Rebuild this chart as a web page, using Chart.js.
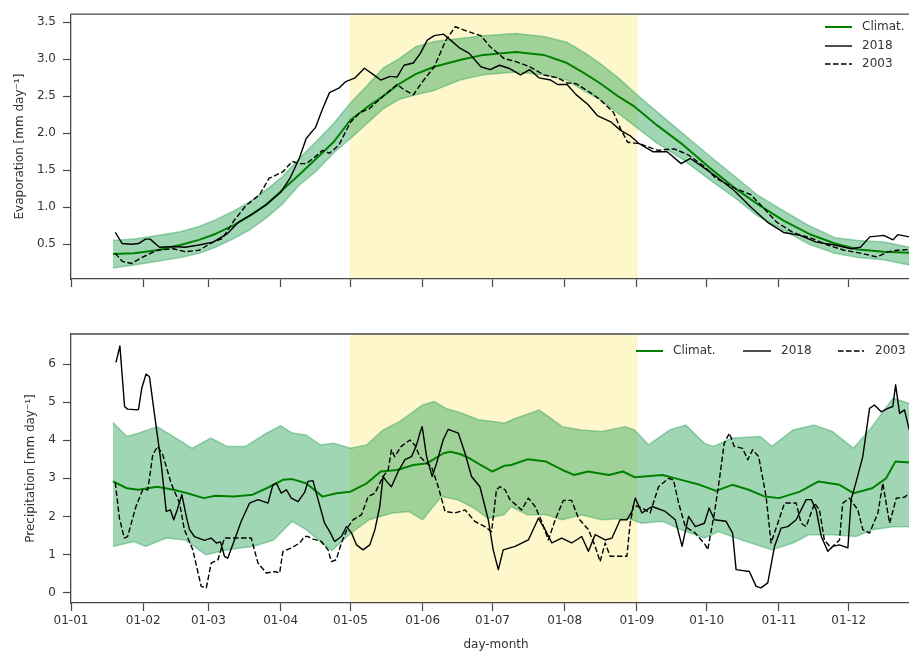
<!DOCTYPE html>
<html>
<head>
<meta charset="utf-8">
<script src="https://cdn.jsdelivr.net/npm/chart.js@4.4.1/dist/chart.umd.min.js"></script>
<style>
  html, body { margin: 0; padding: 0; background: #fff; overflow: hidden; }
  #wrap { position: relative; width: 909px; height: 652px; overflow: hidden; }
  #evap { position: absolute; left: 0; top: 0; }
  #prec { position: absolute; left: 0; top: 300px; }
</style>
</head>
<body>
<div id="wrap">
  <canvas id="evap" width="921" height="300"></canvas>
  <canvas id="prec" width="921" height="352"></canvas>
</div>
<script>
// x axis: day of year, ticks on the first of each month
const MONTH_START_DAYS = [0, 31, 59, 90, 120, 151, 181, 212, 243, 273, 304, 334]
const MONTH_LABELS = ["01-01", "01-02", "01-03", "01-04", "01-05", "01-06",
                      "01-07", "01-08", "01-09", "01-10", "01-11", "01-12"]
const SUMMER_DAYS = [120, 243]   // shaded May-August window
const EVAP_TICKS = [0.5, 1.0, 1.5, 2.0, 2.5, 3.0, 3.5]
const PREC_TICKS = [0, 1, 2, 3, 4, 5, 6]
const LEGEND_LABELS = ["Climat.", "2018", "2003"]

// Evaporation climatology (mean and spread), shared days
const EVAP_CLIM_DAYS = [18, 27, 37, 47, 55, 62, 70, 77, 84, 91, 98, 105, 113, 120, 127, 134, 141, 148,
  156, 167, 177, 191, 203, 213, 220, 227, 235, 242, 252, 263, 274, 285, 295, 306, 317, 328, 338, 349, 360, 365]
const EVAP_CLIM_MEAN = [0.37, 0.38, 0.42, 0.49, 0.56, 0.64, 0.76, 0.89, 1.04, 1.24, 1.44, 1.65, 1.89, 2.18,
  2.35, 2.50, 2.67, 2.80, 2.90, 2.99, 3.06, 3.10, 3.06, 2.95, 2.82, 2.68, 2.50, 2.36, 2.10, 1.84, 1.54, 1.26,
  1.04, 0.82, 0.64, 0.51, 0.43, 0.40, 0.385, 0.38]
const EVAP_CLIM_LOW = [0.18, 0.22, 0.27, 0.32, 0.38, 0.46, 0.58, 0.70, 0.86, 1.05, 1.30, 1.48, 1.74, 1.93,
  2.13, 2.33, 2.46, 2.52, 2.58, 2.72, 2.79, 2.83, 2.79, 2.72, 2.58, 2.46, 2.27, 2.10, 1.86, 1.64, 1.38, 1.13,
  0.88, 0.69, 0.50, 0.38, 0.32, 0.29, 0.22, 0.20]
const EVAP_CLIM_HIGH = [0.55, 0.57, 0.62, 0.67, 0.74, 0.83, 0.95, 1.08, 1.24, 1.42, 1.66, 1.88, 2.14, 2.41,
  2.64, 2.88, 3.01, 3.17, 3.24, 3.28, 3.32, 3.35, 3.31, 3.23, 3.10, 2.95, 2.75, 2.55, 2.28, 1.99, 1.70, 1.42,
  1.16, 0.95, 0.75, 0.59, 0.55, 0.53, 0.46, 0.45]

// Evaporation in single years, [day, mm/day]
const EVAP_2018 = [[19, 0.66], [22, 0.51], [26, 0.50], [29, 0.51], [32, 0.57], [34, 0.57], [38, 0.46],
  [44, 0.47], [49, 0.46], [55, 0.49], [61, 0.53], [67, 0.64], [72, 0.80], [78, 0.91], [84, 1.04], [90, 1.20],
  [94, 1.39], [98, 1.66], [101, 1.93], [105, 2.08], [108, 2.33], [111, 2.55], [115, 2.61], [118, 2.70],
  [122, 2.75], [126, 2.88], [130, 2.79], [133, 2.72], [137, 2.77], [140, 2.76], [143, 2.92], [147, 2.95],
  [150, 3.08], [153, 3.26], [156, 3.32], [160, 3.34], [163, 3.26], [167, 3.15], [171, 3.08], [176, 2.90],
  [180, 2.86], [184, 2.92], [188, 2.88], [193, 2.79], [197, 2.86], [201, 2.75], [206, 2.72], [209, 2.66],
  [213, 2.66], [217, 2.52], [222, 2.39], [226, 2.24], [232, 2.15], [236, 2.04], [240, 1.97], [244, 1.86],
  [250, 1.75], [256, 1.75], [262, 1.59], [266, 1.66], [272, 1.53], [277, 1.42], [285, 1.22], [292, 1.00],
  [299, 0.80], [306, 0.66], [313, 0.62], [320, 0.53], [328, 0.49], [335, 0.44], [339, 0.46], [343, 0.60],
  [349, 0.62], [353, 0.56], [355, 0.63], [360, 0.60], [364, 0.58]]
const EVAP_2003 = [[19, 0.38], [22, 0.27], [26, 0.24], [31, 0.33], [37, 0.42], [44, 0.44], [49, 0.40],
  [55, 0.42], [61, 0.53], [65, 0.58], [70, 0.82], [75, 1.02], [81, 1.17], [85, 1.39], [91, 1.48], [95, 1.62],
  [98, 1.59], [101, 1.59], [104, 1.66], [108, 1.77], [111, 1.73], [115, 1.84], [120, 2.15], [124, 2.28],
  [128, 2.33], [134, 2.50], [140, 2.66], [143, 2.59], [147, 2.52], [151, 2.70], [156, 2.90], [161, 3.26],
  [165, 3.44], [171, 3.37], [176, 3.32], [180, 3.17], [186, 3.01], [191, 2.97], [197, 2.90], [203, 2.79],
  [209, 2.75], [213, 2.68], [217, 2.67], [223, 2.55], [227, 2.46], [233, 2.28], [236, 2.06], [239, 1.88],
  [244, 1.86], [252, 1.77], [259, 1.79], [265, 1.71], [272, 1.55], [277, 1.39], [285, 1.26], [292, 1.17],
  [298, 0.97], [303, 0.80], [310, 0.66], [318, 0.58], [325, 0.49], [332, 0.42], [339, 0.38], [346, 0.33],
  [351, 0.40], [355, 0.42], [360, 0.43], [364, 0.43]]

// Precipitation climatology, [day, mm/day]
const PREC_CLIM_MEAN = [[18, 2.92], [24, 2.74], [29, 2.70], [37, 2.78], [44, 2.70], [50, 2.61], [57, 2.48],
  [62, 2.54], [70, 2.52], [78, 2.57], [84, 2.74], [91, 2.96], [95, 2.98], [101, 2.87], [108, 2.52], [114, 2.61],
  [120, 2.65], [127, 2.87], [133, 3.18], [140, 3.22], [147, 3.35], [153, 3.40], [160, 3.66], [163, 3.70],
  [167, 3.64], [171, 3.53], [176, 3.35], [181, 3.18], [186, 3.33], [189, 3.35], [196, 3.50], [204, 3.44],
  [211, 3.22], [216, 3.09], [222, 3.18], [231, 3.09], [237, 3.18], [242, 3.03], [254, 3.09], [262, 2.96],
  [270, 2.83], [277, 2.67], [284, 2.83], [291, 2.70], [298, 2.52], [304, 2.48], [313, 2.65], [321, 2.92],
  [330, 2.83], [336, 2.61], [344, 2.74], [350, 3.00], [354, 3.44], [360, 3.42], [364, 3.40]]
const PREC_CLIM_HIGH = [[18, 4.47], [24, 4.10], [29, 4.19], [37, 4.36], [44, 4.10], [52, 3.79], [60, 4.06],
  [67, 3.84], [75, 3.84], [84, 4.19], [90, 4.38], [95, 4.19], [101, 4.14], [107, 3.88], [113, 3.92], [120, 3.79],
  [127, 3.88], [134, 4.27], [141, 4.49], [151, 4.93], [156, 5.02], [161, 4.84], [168, 4.71], [175, 4.54],
  [182, 4.49], [186, 4.45], [191, 4.58], [201, 4.80], [211, 4.36], [219, 4.27], [228, 4.23], [238, 4.36],
  [242, 4.27], [248, 3.88], [257, 4.27], [264, 4.40], [272, 3.92], [276, 3.84], [284, 4.06], [296, 4.10],
  [301, 3.84], [310, 4.27], [319, 4.40], [327, 4.23], [336, 3.79], [344, 4.36], [353, 5.11], [360, 4.97], [364, 4.95]]
const PREC_CLIM_LOW = [[18, 1.21], [27, 1.34], [32, 1.21], [41, 1.43], [49, 1.38], [58, 0.99], [67, 1.12],
  [78, 1.21], [87, 1.38], [95, 1.87], [101, 1.65], [107, 1.34], [112, 1.10], [120, 1.55], [128, 1.91], [138, 2.09],
  [145, 2.13], [151, 1.91], [159, 2.52], [166, 2.44], [173, 2.22], [179, 1.95], [186, 2.04], [189, 2.26],
  [196, 2.04], [204, 2.04], [211, 1.91], [219, 2.04], [228, 1.91], [239, 1.95], [245, 1.82], [254, 1.87],
  [262, 1.65], [272, 1.43], [278, 1.60], [288, 1.38], [301, 1.12], [310, 1.30], [317, 1.52], [327, 1.52],
  [337, 1.47], [344, 1.65], [353, 1.73], [360, 1.73], [364, 1.73]]

// Precipitation in single years, [day, mm/day]
const PREC_2018 = [[19, 6.07], [19.4, 6.07], [21, 6.48], [23, 4.89], [24.3, 4.82], [28.6, 4.80], [29, 4.82],
  [30.4, 5.37], [32.2, 5.74], [33.7, 5.67], [35.8, 4.71], [38.7, 3.40], [40.9, 2.13], [42.7, 2.17], [44.1, 1.91],
  [45.6, 2.17], [47.6, 2.57], [49.5, 2.00], [50.9, 1.65], [53, 1.47], [57.3, 1.37], [60.2, 1.43], [62.4, 1.30],
  [64.2, 1.33], [65.9, 0.95], [67.3, 0.90], [70.2, 1.38], [73.1, 1.87], [76.7, 2.35], [80.3, 2.44], [84.6, 2.35],
  [86.7, 2.83], [88.2, 2.87], [90.3, 2.61], [92.5, 2.70], [94.6, 2.48], [97.5, 2.39], [100.3, 2.63], [101.8, 2.92],
  [103.9, 2.94], [106.1, 2.44], [108.9, 1.82], [111.1, 1.60], [113.2, 1.34], [116.1, 1.47], [118.3, 1.73],
  [120.5, 1.56], [122.6, 1.25], [125.4, 1.12], [128.3, 1.25], [130.5, 1.65], [132.6, 2.26], [134, 3.05],
  [135.5, 2.92], [137.6, 2.78], [140.5, 3.18], [143.4, 3.49], [146.2, 3.57], [148.4, 3.88], [149.8, 4.19],
  [150.8, 4.36], [152.7, 3.57], [155.1, 3.05], [157, 3.40], [159.8, 4.01], [162, 4.29], [166.3, 4.19],
  [169.2, 3.66], [172, 3.05], [175.6, 2.78], [179.2, 1.91], [181.3, 1.12], [183.5, 0.60], [185.6, 1.12],
  [190.7, 1.21], [196.4, 1.38], [200.7, 1.95], [203.6, 1.65], [206.5, 1.30], [210.7, 1.43], [215, 1.30],
  [219.3, 1.47], [222.2, 1.08], [225.1, 1.52], [229.4, 1.38], [232.3, 1.43], [235.8, 1.91], [238.7, 1.91],
  [240.9, 2.13], [242.3, 2.48], [245.2, 2.09], [249.5, 2.26], [255.2, 2.13], [259.5, 1.91], [262.4, 1.21],
  [265.2, 2.00], [268.1, 1.73], [272, 1.82], [274, 2.22], [276.3, 1.91], [281.3, 1.87], [284.1, 1.56],
  [285.6, 0.60], [291.3, 0.55], [294.2, 0.16], [296.3, 0.12], [299.2, 0.25], [302.1, 1.21], [304.9, 1.69],
  [307.8, 1.73], [311.4, 1.91], [315.7, 2.44], [317.9, 2.44], [320, 2.17], [322.2, 1.47], [325, 1.08],
  [327.1, 1.21], [330, 1.25], [333.6, 1.17], [335, 2.44], [337.2, 2.92], [340, 3.57], [342.9, 4.84], [345, 4.93],
  [347.9, 4.75], [350.8, 4.84], [352.9, 4.89], [354.1, 5.46], [355.8, 4.71], [357.9, 4.80], [360, 4.27], [363, 3.90]]
const PREC_2003 = [[19, 2.89], [20.8, 1.95], [22.9, 1.43], [24.3, 1.47], [27.9, 2.26], [30.8, 2.70], [33, 2.70],
  [35.1, 3.62], [37.2, 3.84], [39.4, 3.62], [43, 2.87], [46.6, 2.35], [48.7, 1.65], [52.3, 1.12], [55.9, 0.16],
  [58.1, 0.12], [60.2, 0.77], [63.1, 0.86], [65.9, 1.43], [70.2, 1.43], [77.4, 1.43], [80.3, 0.77], [83.9, 0.51],
  [87.5, 0.55], [89.6, 0.51], [91, 1.08], [94.6, 1.17], [98.2, 1.30], [100.3, 1.47], [101.8, 1.47], [104, 1.40],
  [107.5, 1.34], [110.4, 1.12], [111.8, 0.81], [113.9, 0.86], [116.1, 1.30], [119, 1.73], [121.1, 1.91],
  [124.7, 2.04], [127.6, 2.52], [130.5, 2.61], [134, 3.05], [136.2, 3.22], [137.6, 3.75], [139, 3.57],
  [141.8, 3.84], [145.5, 4.01], [147.6, 3.88], [149.8, 3.57], [152.7, 3.40], [154.8, 3.31], [157.7, 2.78],
  [160.6, 2.13], [164.9, 2.09], [169.2, 2.17], [173.4, 1.87], [177.7, 1.73], [180.6, 1.60], [182.7, 2.70],
  [184.2, 2.78], [186.4, 2.70], [188.5, 2.44], [193.5, 2.17], [196.4, 2.48], [199.3, 2.26], [202.1, 1.87],
  [205, 1.38], [207.9, 1.91], [211.4, 2.42], [215, 2.42], [217.9, 1.95], [222.2, 1.65], [225.1, 1.21],
  [227.2, 0.81], [229.4, 1.30], [231.5, 0.95], [238.7, 0.95], [240.1, 1.82], [241.6, 2.30], [245.2, 2.22],
  [248.7, 2.09], [252.3, 2.78], [256.6, 3.00], [258.7, 2.96], [260.9, 2.35], [263.8, 1.73], [268.1, 1.56],
  [272.4, 1.25], [273.4, 1.12], [276.3, 2.09], [278.4, 2.96], [280.5, 3.92], [282.7, 4.19], [284.8, 3.84],
  [288.4, 3.79], [290.6, 3.49], [292.7, 3.75], [295.3, 3.57], [298.5, 2.52], [300.6, 1.30], [303.5, 1.82],
  [306.4, 2.35], [311.4, 2.35], [313.5, 1.82], [315.7, 1.73], [319.3, 2.35], [321.4, 2.17], [323.5, 1.38],
  [326.4, 1.17], [330, 1.38], [331.4, 2.35], [334.3, 2.48], [337.9, 2.17], [340, 1.65], [342.9, 1.56],
  [346.5, 2.09], [348.6, 2.87], [351.5, 1.82], [354.4, 2.48], [357.9, 2.50], [360, 2.61], [363, 2.70]]

const FONT_FAMILY = "'DejaVu Sans', 'Liberation Sans', sans-serif"
const FONT = { family: FONT_FAMILY, size: 12 }
const TEXT_COLOR = "#333"
const SPINE_COLOR = "#474747"
const CLIM_GREEN = "#008000"
const BAND_GREEN = "rgba(44, 164, 88, 0.45)"
const SPAN_YELLOW = "rgba(255, 215, 0, 0.2)"
const Y_AXIS_WIDTH = 71

const toPoints = (pairs) => pairs.map(([x, y]) => ({ x, y }))
const zipPoints = (days, vals) => days.map((d, i) => ({ x: d, y: vals[i] }))

// Shared spine/tick look: no gridlines, outward tick dashes only.
const AXIS_GRID = { drawOnChartArea: false, drawTicks: true, tickLength: 8, tickColor: SPINE_COLOR, tickWidth: 1.2 }
const AXIS_BORDER = { display: true, color: SPINE_COLOR, width: 1.3 }

function xScale(withLabels, height) {
  return {
    type: "linear",
    min: 0,
    max: 365,
    grid: { ...AXIS_GRID },
    border: { ...AXIS_BORDER },
    afterBuildTicks: (axis) => { axis.ticks = MONTH_START_DAYS.map((v) => ({ value: v })) },
    ticks: {
      display: withLabels,
      autoSkip: false,
      maxRotation: 0,
      padding: 3,
      color: TEXT_COLOR,
      font: FONT,
      callback: (v) => MONTH_LABELS[MONTH_START_DAYS.indexOf(v)]
    },
    title: {
      display: withLabels,
      text: "day-month",
      color: TEXT_COLOR,
      font: FONT,
      padding: { top: 0, bottom: 0 }
    },
    afterFit: (axis) => { axis.height = height }
  }
}

function yScale(min, max, tickValues, fmt, title, titlePad) {
  return {
    type: "linear",
    min: min,
    max: max,
    grid: { ...AXIS_GRID },
    border: { ...AXIS_BORDER },
    afterBuildTicks: (axis) => { axis.ticks = tickValues.map((v) => ({ value: v })) },
    ticks: { padding: 7, color: TEXT_COLOR, font: FONT, callback: fmt },
    title: { display: true, text: title, color: TEXT_COLOR, font: FONT, padding: { top: titlePad, bottom: 0 } },
    afterFit: (axis) => { axis.width = Y_AXIS_WIDTH }
  }
}

// Summer shading behind everything, plus its faint edges.
function spanPlugin(from, to) {
  return {
    id: "summerSpan",
    beforeDraw(chart) {
      const { ctx, chartArea, scales } = chart
      const x0 = scales.x.getPixelForValue(from)
      const x1 = scales.x.getPixelForValue(to)
      ctx.save()
      ctx.fillStyle = SPAN_YELLOW
      ctx.fillRect(x0, chartArea.top, x1 - x0, chartArea.bottom - chartArea.top)
      ctx.strokeStyle = SPAN_YELLOW
      ctx.lineWidth = 1
      ctx.beginPath()
      ctx.moveTo(x0, chartArea.top); ctx.lineTo(x0, chartArea.bottom)
      ctx.moveTo(x1, chartArea.top); ctx.lineTo(x1, chartArea.bottom)
      ctx.stroke()
      ctx.restore()
    }
  }
}

// Top spine (Chart.js only draws the axis-side borders).
const topSpinePlugin = {
  id: "topSpine",
  afterDraw(chart) {
    const { ctx, chartArea } = chart
    ctx.save()
    ctx.strokeStyle = SPINE_COLOR
    ctx.lineWidth = AXIS_BORDER.width
    ctx.beginPath()
    ctx.moveTo(chartArea.left, chartArea.top)
    ctx.lineTo(chartArea.right, chartArea.top)
    ctx.stroke()
    ctx.restore()
  }
}

const LEGEND_STYLES = [
  { color: CLIM_GREEN, width: 2, dash: [] },
  { color: "#000", width: 1.4, dash: [] },
  { color: "#000", width: 1.4, dash: [5.5, 2.5] }
]

// Matplotlib-style frameless legend; slots give line start/end, text x and row y.
function legendPlugin(slots) {
  return {
    id: "lineLegend",
    afterDraw(chart) {
      const { ctx } = chart
      ctx.save()
      ctx.font = `12px ${FONT_FAMILY}`
      ctx.textBaseline = "middle"
      ctx.textAlign = "left"
      LEGEND_LABELS.forEach((label, i) => {
        const s = slots[i]
        const st = LEGEND_STYLES[i]
        ctx.strokeStyle = st.color
        ctx.lineWidth = st.width
        ctx.setLineDash(st.dash)
        ctx.beginPath()
        ctx.moveTo(s.x0, s.y)
        ctx.lineTo(s.x1, s.y)
        ctx.stroke()
        ctx.setLineDash([])
        ctx.fillStyle = TEXT_COLOR
        ctx.fillText(label, s.tx, s.y)
      })
      ctx.restore()
    }
  }
}

function seriesDatasets(mean, low, high, y2018, y2003) {
  const line = { pointRadius: 0, borderJoinStyle: "round", tension: 0, fill: false }
  return [
    { ...line, data: y2018, borderColor: "#000", borderWidth: 1.4 },
    { ...line, data: y2003, borderColor: "#000", borderWidth: 1.4, borderDash: [5.5, 2.5] },
    { ...line, data: mean, borderColor: CLIM_GREEN, borderWidth: 2 },
    { ...line, data: high, borderColor: BAND_GREEN, borderWidth: 1.5, fill: "+1", backgroundColor: BAND_GREEN },
    { ...line, data: low, borderColor: BAND_GREEN, borderWidth: 1.5 }
  ]
}

const baseOptions = {
  animation: false,
  responsive: false,
  events: [],
  plugins: { legend: { display: false }, tooltip: { enabled: false } }
}

new Chart(document.getElementById("evap").getContext("2d"), {
  type: "line",
  plugins: [
    spanPlugin(SUMMER_DAYS[0], SUMMER_DAYS[1]),
    topSpinePlugin,
    legendPlugin([
      { x0: 825, x1: 852, tx: 862, y: 27 },
      { x0: 825, x1: 852, tx: 862, y: 46 },
      { x0: 825, x1: 852, tx: 862, y: 64 }
    ])
  ],
  data: {
    datasets: seriesDatasets(
      zipPoints(EVAP_CLIM_DAYS, EVAP_CLIM_MEAN),
      zipPoints(EVAP_CLIM_DAYS, EVAP_CLIM_LOW),
      zipPoints(EVAP_CLIM_DAYS, EVAP_CLIM_HIGH),
      toPoints(EVAP_2018),
      toPoints(EVAP_2003)
    )
  },
  options: {
    ...baseOptions,
    layout: { padding: { top: 10, right: 0, bottom: 0, left: 0 } },
    scales: {
      x: xScale(false, 21),
      y: yScale(0.031, 3.61, EVAP_TICKS, (v) => v.toFixed(1), "Evaporation [mm day\u207B\u00B9]", 13)
    }
  }
})

new Chart(document.getElementById("prec").getContext("2d"), {
  type: "line",
  plugins: [
    spanPlugin(SUMMER_DAYS[0], SUMMER_DAYS[1]),
    topSpinePlugin,
    legendPlugin([
      { x0: 636, x1: 663, tx: 673, y: 51 },
      { x0: 743, x1: 771, tx: 781, y: 51 },
      { x0: 838, x1: 864, tx: 875, y: 51 }
    ])
  ],
  data: {
    datasets: seriesDatasets(
      toPoints(PREC_CLIM_MEAN),
      toPoints(PREC_CLIM_LOW),
      toPoints(PREC_CLIM_HIGH),
      toPoints(PREC_2018),
      toPoints(PREC_2003)
    )
  },
  options: {
    ...baseOptions,
    layout: { padding: { top: 34, right: 0, bottom: 0, left: 0 } },
    scales: {
      x: xScale(true, 49),
      y: yScale(-0.278, 6.796, PREC_TICKS, (v) => String(v), "Precipitation [mm day\u207B\u00B9]", 24)
    }
  }
})
</script>
</body>
</html>
